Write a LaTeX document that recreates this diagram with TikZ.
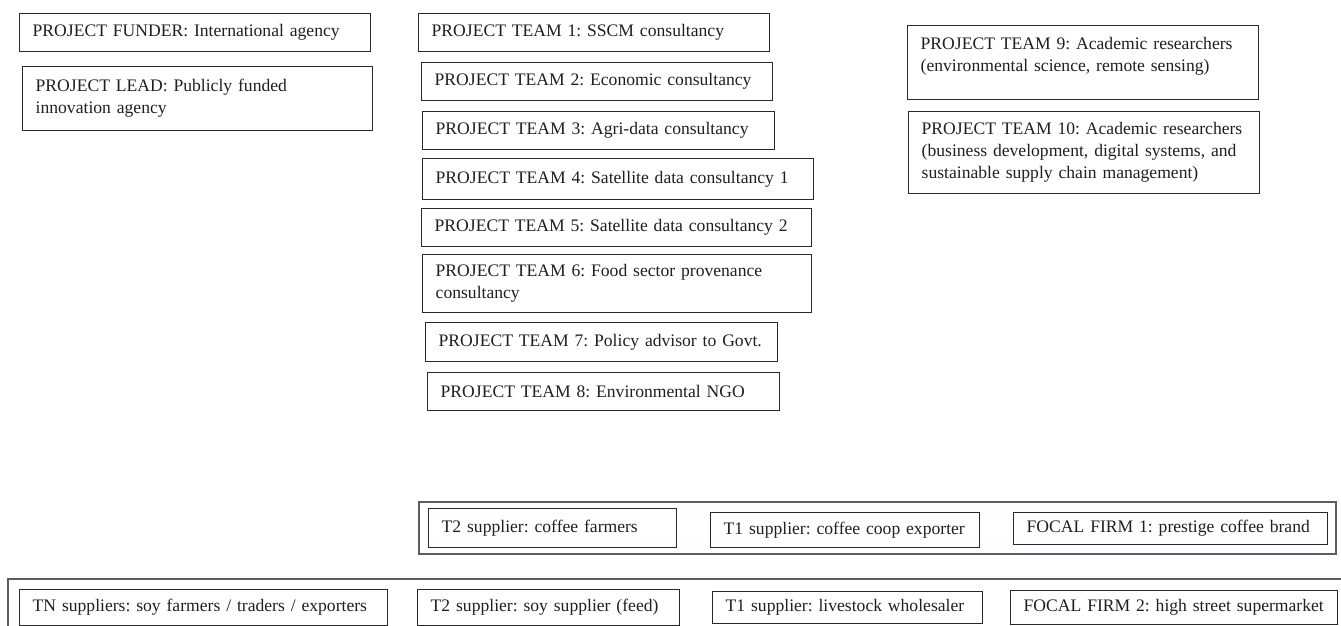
\documentclass[tikz,border=0pt]{standalone}
\usepackage{fontspec}
\setmainfont{Liberation Serif}
\usepackage{tikz}
\frenchspacing
\hyphenpenalty=10000
\definecolor{boxline}{rgb}{0.16,0.16,0.16}
\definecolor{frameline}{rgb}{0.33,0.37,0.43}
\definecolor{boxtext}{rgb}{0.12,0.12,0.12}
\tikzset{
  entity/.style={draw=boxline, line width=0.7pt, rectangle, anchor=north west,
    align=left, inner xsep=6.5pt, inner ysep=0pt, text=boxtext,
    font=\fontsize{8.8}{11}\selectfont},
  chainframe/.style={draw=frameline, line width=0.6pt}
}
\begin{document}
\begin{tikzpicture}[x=0.5pt,y=-0.5pt]
\useasboundingbox (0,0) rectangle (1341,626);
\clip (0,0) rectangle (1341,626);

\node[entity, text width=162.5pt, minimum height=19pt] (funder) at (19,13) {PROJECT FUNDER: International agency};
\node[entity, text width=162pt, minimum height=32pt] (lead) at (22,66) {PROJECT LEAD: Publicly funded\\innovation agency};

\node[entity, text width=162.5pt, minimum height=19pt] (team1) at (418,13) {PROJECT TEAM 1: SSCM consultancy};
\node[entity, text width=162.5pt, minimum height=19pt] (team2) at (421,62) {PROJECT TEAM 2: Economic consultancy};
\node[entity, text width=163pt, minimum height=19pt] (team3) at (422,111) {PROJECT TEAM 3: Agri-data consultancy};
\node[entity, text width=182.5pt, minimum height=20.5pt] (team4) at (422,158) {PROJECT TEAM 4: Satellite data consultancy 1};
\node[entity, text width=182pt, minimum height=19pt] (team5) at (421,208) {PROJECT TEAM 5: Satellite data consultancy 2};
\node[entity, text width=181.5pt, minimum height=29pt] (team6) at (422,254) {PROJECT TEAM 6: Food sector provenance\\consultancy};
\node[entity, text width=163pt, minimum height=19.5pt] (team7) at (425,322) {PROJECT TEAM 7: Policy advisor to Govt.};
\node[entity, text width=163pt, minimum height=19pt] (team8) at (427,372) {PROJECT TEAM 8: Environmental NGO};

\node[entity, text width=162.5pt, minimum height=37pt, text depth=19pt] (team9) at (907,25) {PROJECT TEAM 9: Academic researchers\\(environmental science, remote sensing)};
\node[entity, text width=162.5pt, minimum height=41pt] (team10) at (908,111) {PROJECT TEAM 10: Academic researchers\\(business development, digital systems, and\\sustainable supply chain management)};

% coffee chain
\draw[chainframe] (419,502) rectangle (1336,554);
\node[entity, text width=111pt, minimum height=19.5pt] (coffeeT2) at (428,508) {T2 supplier: coffee farmers};
\node[entity, text width=121.5pt, minimum height=17.5pt] (coffeeT1) at (710,512) {T1 supplier: coffee coop exporter};
\node[entity, text width=144pt, minimum height=16pt] (focal1) at (1013,512) {FOCAL FIRM 1: prestige coffee brand};

% soy / livestock chain
\draw[chainframe] (8,579) rectangle (1350,660);
\node[entity, text width=171pt, minimum height=18pt] (soyTN) at (19,589) {TN suppliers: soy farmers / traders / exporters};
\node[entity, text width=118pt, minimum height=18pt] (soyT2) at (417,589) {T2 supplier: soy supplier (feed)};
\node[entity, text width=122pt, minimum height=16pt] (soyT1) at (712,591) {T1 supplier: livestock wholesaler};
\node[entity, text width=150.5pt, minimum height=17pt] (focal2) at (1010,590) {FOCAL FIRM 2: high street supermarket};
\end{tikzpicture}
\end{document}
